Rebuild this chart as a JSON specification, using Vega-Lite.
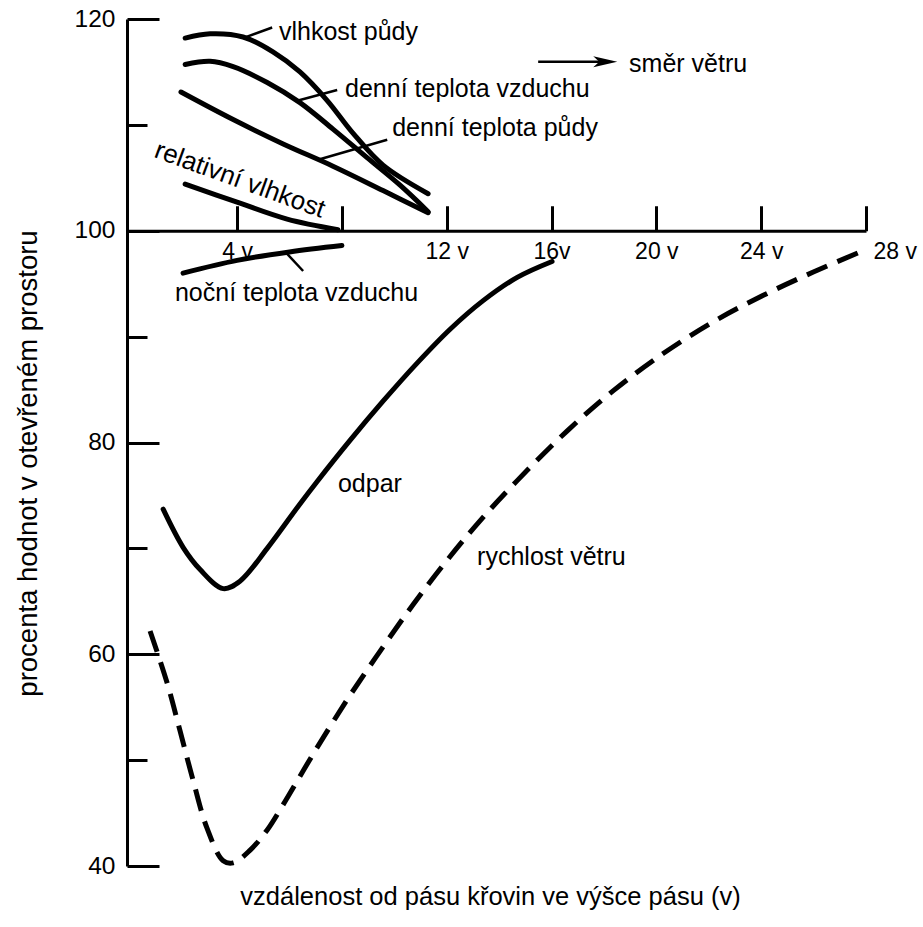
{
  "$schema": "https://vega.github.io/schema/vega-lite/v6.json",
  "width": 739,
  "height": 847,
  "autosize": "none",
  "padding": {"left": 127, "top": 19, "right": 57, "bottom": 61},
  "background": "white",
  "config": {"view": {"stroke": null}, "font": "Liberation Sans"},
  "datasets": {
    "curves": [
      {"series": "vlhkost půdy", "x": 2.02, "y": 118.2},
      {"series": "vlhkost půdy", "x": 2.97, "y": 118.6},
      {"series": "vlhkost půdy", "x": 4.23, "y": 118.3},
      {"series": "vlhkost půdy", "x": 5.37, "y": 116.9},
      {"series": "vlhkost půdy", "x": 6.40, "y": 115.0},
      {"series": "vlhkost půdy", "x": 7.44, "y": 112.3},
      {"series": "vlhkost půdy", "x": 8.43, "y": 109.2},
      {"series": "vlhkost půdy", "x": 9.57, "y": 106.2},
      {"series": "vlhkost půdy", "x": 11.29, "y": 103.5},
      {"series": "denní teplota vzduchu", "x": 2.02, "y": 115.7},
      {"series": "denní teplota vzduchu", "x": 2.97, "y": 116.0},
      {"series": "denní teplota vzduchu", "x": 3.85, "y": 115.5},
      {"series": "denní teplota vzduchu", "x": 5.15, "y": 114.0},
      {"series": "denní teplota vzduchu", "x": 6.40, "y": 112.1},
      {"series": "denní teplota vzduchu", "x": 7.66, "y": 109.6},
      {"series": "denní teplota vzduchu", "x": 8.96, "y": 106.9},
      {"series": "denní teplota vzduchu", "x": 10.22, "y": 104.3},
      {"series": "denní teplota vzduchu", "x": 11.29, "y": 101.8},
      {"series": "denní teplota půdy", "x": 1.86, "y": 113.1},
      {"series": "denní teplota půdy", "x": 3.85, "y": 110.5},
      {"series": "denní teplota půdy", "x": 5.76, "y": 108.2},
      {"series": "denní teplota půdy", "x": 7.66, "y": 106.1},
      {"series": "denní teplota půdy", "x": 9.57, "y": 103.8},
      {"series": "denní teplota půdy", "x": 11.29, "y": 101.7},
      {"series": "relativní vlhkost", "x": 2.02, "y": 104.4},
      {"series": "relativní vlhkost", "x": 4.0, "y": 102.7},
      {"series": "relativní vlhkost", "x": 5.91, "y": 101.1},
      {"series": "relativní vlhkost", "x": 7.85, "y": 100.1},
      {"series": "noční teplota vzduchu", "x": 1.94, "y": 96.0},
      {"series": "noční teplota vzduchu", "x": 4.0, "y": 97.2},
      {"series": "noční teplota vzduchu", "x": 6.0, "y": 98.0},
      {"series": "noční teplota vzduchu", "x": 8.0, "y": 98.6},
      {"series": "odpar", "x": 1.18, "y": 73.7},
      {"series": "odpar", "x": 1.94, "y": 70.1},
      {"series": "odpar", "x": 2.59, "y": 68.0},
      {"series": "odpar", "x": 3.47, "y": 66.2},
      {"series": "odpar", "x": 4.11, "y": 66.9},
      {"series": "odpar", "x": 5.15, "y": 70.0},
      {"series": "odpar", "x": 6.40, "y": 74.2},
      {"series": "odpar", "x": 7.05, "y": 76.3},
      {"series": "odpar", "x": 8.31, "y": 80.2},
      {"series": "odpar", "x": 9.57, "y": 83.9},
      {"series": "odpar", "x": 10.87, "y": 87.5},
      {"series": "odpar", "x": 12.13, "y": 90.7},
      {"series": "odpar", "x": 13.39, "y": 93.4},
      {"series": "odpar", "x": 14.69, "y": 95.6},
      {"series": "odpar", "x": 16.02, "y": 97.1}
    ],
    "wind": [
      {"x": 0.68, "y": 62.2},
      {"x": 1.33, "y": 57.3},
      {"x": 1.82, "y": 52.8},
      {"x": 2.31, "y": 48.2},
      {"x": 2.85, "y": 43.6},
      {"x": 3.47, "y": 40.5},
      {"x": 3.85, "y": 40.3},
      {"x": 4.50, "y": 41.5},
      {"x": 5.15, "y": 43.4},
      {"x": 5.76, "y": 45.8},
      {"x": 6.91, "y": 50.6},
      {"x": 8.20, "y": 55.7},
      {"x": 9.46, "y": 60.3},
      {"x": 10.72, "y": 64.7},
      {"x": 12.02, "y": 68.9},
      {"x": 13.27, "y": 72.6},
      {"x": 14.69, "y": 76.4},
      {"x": 16.60, "y": 81.1},
      {"x": 18.36, "y": 84.9},
      {"x": 20.26, "y": 88.4},
      {"x": 22.17, "y": 91.4},
      {"x": 24.08, "y": 93.9},
      {"x": 25.99, "y": 96.1},
      {"x": 27.97, "y": 98.2}
    ],
    "leaders": [
      {"x": 4.23, "y": 118.2, "x2": 5.34, "y2": 119.2},
      {"x": 6.33, "y": 112.3, "x2": 7.82, "y2": 113.3},
      {"x": 7.09, "y": 106.7, "x2": 9.73, "y2": 108.6},
      {"x": 5.88, "y": 97.9, "x2": 6.52, "y2": 96.2}
    ],
    "labels": [
      {"label": "vlhkost půdy", "x": 5.60, "y": 118.0},
      {"label": "denní teplota vzduchu", "x": 8.12, "y": 112.6},
      {"label": "denní teplota půdy", "x": 9.92, "y": 108.97},
      {"label": "noční teplota vzduchu", "x": 1.63, "y": 93.36},
      {"label": "odpar", "x": 7.85, "y": 75.36},
      {"label": "rychlost větru", "x": 13.16, "y": 68.4},
      {"label": "směr větru", "x": 18.96, "y": 114.95}
    ],
    "rotated": [
      {"label": "relativní vlhkost", "x": 4.11, "y": 104.8}
    ],
    "arrow": [
      {"x": 15.49, "y": 115.96, "x2": 18.1, "y2": 115.96}
    ],
    "arrowhead": [
      {"x": 18.05, "y": 115.96}
    ]
  },
  "encoding": {
    "x": {
      "field": "x",
      "type": "quantitative",
      "scale": {"domain": [-0.2, 28], "nice": false, "zero": false},
      "axis": {
        "orient": "top",
        "offset": -211.75,
        "values": [4, 8, 12, 16, 20, 24, 28],
        "grid": false,
        "domainColor": "black",
        "domainWidth": 3,
        "tickColor": "black",
        "tickWidth": 3,
        "tickSize": 25,
        "labelExpr": "datum.value == 4 ? '4 v' : datum.value == 8 ? '' : datum.value == 16 ? '16v' : datum.value + ' v'",
        "labelBaseline": "top",
        "labelPadding": -35,
        "labelFontSize": 23,
        "labelColor": "black",
        "labelAlign": {"condition": {"test": "datum.value == 28", "value": "left"}, "value": "center"},
        "labelOffset": {"condition": {"test": "datum.value == 28", "value": 7}, "value": 0},
        "labelFlush": false,
        "labelOverlap": false,
        "labelBound": false,
        "title": "vzdálenost od pásu křovin ve výšce pásu (v)",
        "titleX": 363,
        "titleY": 674,
        "titleAngle": 0,
        "titleAlign": "center",
        "titleBaseline": "alphabetic",
        "titleFontSize": 25.5,
        "titleFontWeight": "normal",
        "titleColor": "black"
      }
    },
    "y": {
      "field": "y",
      "type": "quantitative",
      "scale": {"domain": [40, 120], "nice": false, "zero": false},
      "axis": {
        "orient": "left",
        "values": [40, 50, 60, 70, 80, 90, 100, 110, 120],
        "grid": false,
        "domainColor": "black",
        "domainWidth": 3,
        "tickColor": "black",
        "tickWidth": 3,
        "tickSize": {"condition": {"test": "datum.value % 20 != 0", "value": -20}, "value": -32},
        "labelExpr": "datum.value % 20 == 0 ? datum.label : ''",
        "labelPadding": 44,
        "labelFontSize": 24.5,
        "labelColor": "black",
        "labelAlign": "right",
        "labelBaseline": "middle",
        "labelFlush": false,
        "labelOverlap": false,
        "labelBound": false,
        "title": "procenta hodnot v otevřeném prostoru",
        "titleX": -99,
        "titleY": 444,
        "titleAngle": 270,
        "titleAlign": "center",
        "titleBaseline": "middle",
        "titleFontSize": 27.5,
        "titleFontWeight": "normal",
        "titleColor": "black"
      }
    }
  },
  "layer": [
    {
      "data": {"name": "curves"},
      "mark": {"type": "line", "interpolate": "catmull-rom", "strokeWidth": 5, "color": "black", "strokeCap": "round"},
      "encoding": {"detail": {"field": "series", "type": "nominal"}}
    },
    {
      "data": {"name": "wind"},
      "mark": {"type": "line", "interpolate": "catmull-rom", "strokeWidth": 5, "color": "black", "strokeDash": [22, 11]},
      "encoding": {}
    },
    {
      "data": {"name": "leaders"},
      "mark": {"type": "rule", "strokeWidth": 2.5, "color": "black"},
      "encoding": {"x2": {"field": "x2"}, "y2": {"field": "y2"}}
    },
    {
      "data": {"name": "arrow"},
      "mark": {"type": "rule", "strokeWidth": 2.5, "color": "black"},
      "encoding": {"x2": {"field": "x2"}, "y2": {"field": "y2"}}
    },
    {
      "data": {"name": "arrowhead"},
      "mark": {"type": "point", "shape": "M 1 0 L -1 -0.45 L -0.5 0 L -1 0.45 Z", "size": 576, "filled": true, "color": "black", "opacity": 1},
      "encoding": {}
    },
    {
      "data": {"name": "labels"},
      "mark": {"type": "text", "align": "left", "baseline": "alphabetic", "fontSize": 25, "color": "black"},
      "encoding": {"text": {"field": "label"}}
    },
    {
      "data": {"name": "rotated"},
      "mark": {"type": "text", "align": "center", "baseline": "middle", "fontSize": 26, "angle": 20, "color": "black"},
      "encoding": {"text": {"field": "label"}}
    }
  ]
}
